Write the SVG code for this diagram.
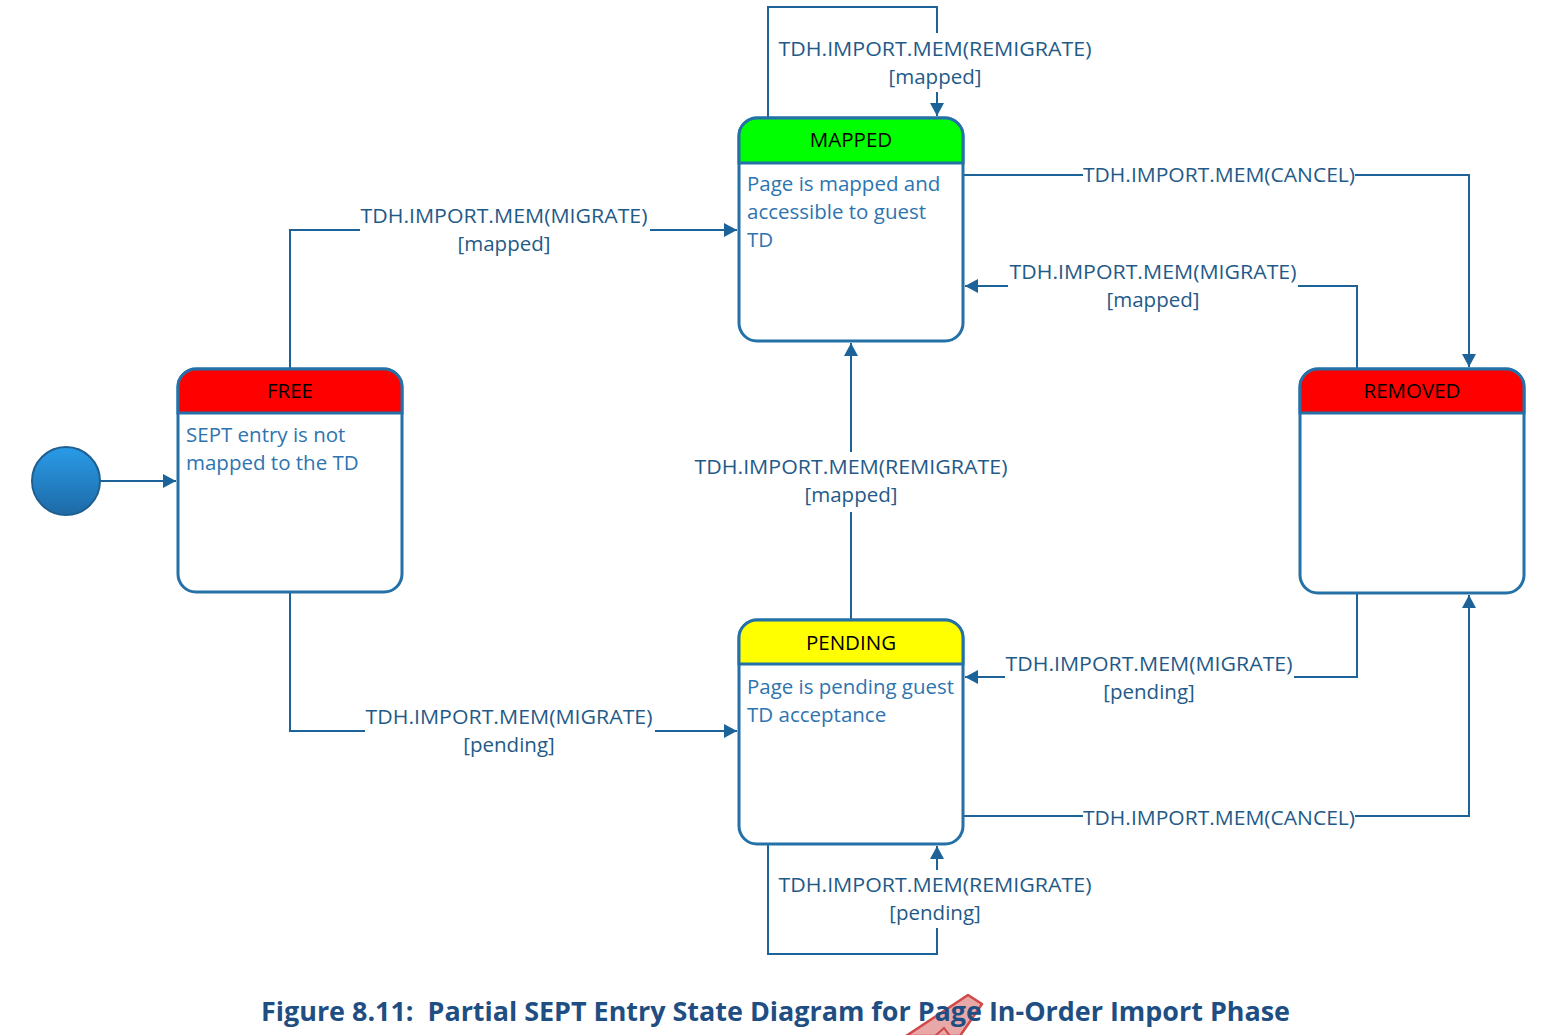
<svg xmlns="http://www.w3.org/2000/svg" width="1541" height="1035" viewBox="0 0 1541 1035">
<defs>
<marker id="arr" markerUnits="userSpaceOnUse" markerWidth="14" markerHeight="14" refX="13" refY="7" orient="auto">
<path d="M0,0 L13,7 L0,14 Z" fill="#1B6399"/>
</marker>
<linearGradient id="ball" x1="0" y1="0" x2="0" y2="1">
<stop offset="0" stop-color="#2A9BE8"/>
<stop offset="1" stop-color="#1D6AA6"/>
</linearGradient>
<style>
.box{fill:#fff;stroke:#2471A8;stroke-width:3}
.hdr{stroke:#2471A8;stroke-width:3}
.ht{font-family:"Open Sans","Liberation Sans",sans-serif;font-size:20.5px;fill:#000;text-anchor:middle}
.dt{font-family:"Open Sans","Liberation Sans",sans-serif;font-size:20.5px;fill:#2E74B0}
.ln{fill:none;stroke:#1B6399;stroke-width:2}
.lb{font-family:"Open Sans","Liberation Sans",sans-serif;font-size:20.5px;fill:#1F5A88;text-anchor:middle}
.cap{font-family:"Open Sans","Liberation Sans",sans-serif;font-size:27px;font-weight:bold;fill:#1F4E82}
</style>
</defs>
<rect width="1541" height="1035" fill="#fff"/>

<g id="connectors">
<path class="ln" d="M100,481 H176" marker-end="url(#arr)"/>
<path class="ln" d="M290,369 V230 H360"/>
<path class="ln" d="M650,230 H737" marker-end="url(#arr)"/>
<text class="lb" x="504" y="223" textLength="287" lengthAdjust="spacingAndGlyphs">TDH.IMPORT.MEM(MIGRATE)</text>
<text class="lb" x="504" y="251">[mapped]</text>

<path class="ln" d="M290,593 V731 H365"/>
<path class="ln" d="M655,731 H737" marker-end="url(#arr)"/>
<text class="lb" x="509" y="724" textLength="287" lengthAdjust="spacingAndGlyphs">TDH.IMPORT.MEM(MIGRATE)</text>
<text class="lb" x="509" y="752">[pending]</text>

<path class="ln" d="M851,620 V512"/>
<path class="ln" d="M851,452 V343" marker-end="url(#arr)"/>
<text class="lb" x="851" y="474" textLength="313" lengthAdjust="spacingAndGlyphs">TDH.IMPORT.MEM(REMIGRATE)</text>
<text class="lb" x="851" y="502">[mapped]</text>

<path class="ln" d="M768,118 V7 H937 V33"/>
<path class="ln" d="M937,92 V116" marker-end="url(#arr)"/>
<text class="lb" x="935" y="56" textLength="313" lengthAdjust="spacingAndGlyphs">TDH.IMPORT.MEM(REMIGRATE)</text>
<text class="lb" x="935" y="84">[mapped]</text>

<path class="ln" d="M768,844 V954 H937 V928"/>
<path class="ln" d="M937,870 V846" marker-end="url(#arr)"/>
<text class="lb" x="935" y="892" textLength="313" lengthAdjust="spacingAndGlyphs">TDH.IMPORT.MEM(REMIGRATE)</text>
<text class="lb" x="935" y="920">[pending]</text>

<path class="ln" d="M963,175 H1083"/>
<path class="ln" d="M1355,175 H1469 V367" marker-end="url(#arr)"/>
<text class="lb" x="1219" y="182" textLength="272" lengthAdjust="spacingAndGlyphs">TDH.IMPORT.MEM(CANCEL)</text>

<path class="ln" d="M1357,369 V286 H1298"/>
<path class="ln" d="M1008,286 H965" marker-end="url(#arr)"/>
<text class="lb" x="1153" y="279" textLength="287" lengthAdjust="spacingAndGlyphs">TDH.IMPORT.MEM(MIGRATE)</text>
<text class="lb" x="1153" y="307">[mapped]</text>

<path class="ln" d="M1357,593 V677 H1294"/>
<path class="ln" d="M1005,677 H965" marker-end="url(#arr)"/>
<text class="lb" x="1149" y="671" textLength="287" lengthAdjust="spacingAndGlyphs">TDH.IMPORT.MEM(MIGRATE)</text>
<text class="lb" x="1149" y="699">[pending]</text>

<path class="ln" d="M963,816 H1083"/>
<path class="ln" d="M1355,816 H1469 V595" marker-end="url(#arr)"/>
<text class="lb" x="1219" y="825" textLength="272" lengthAdjust="spacingAndGlyphs">TDH.IMPORT.MEM(CANCEL)</text>
</g>

<g id="initial">
<circle cx="66" cy="481" r="34" fill="url(#ball)" stroke="#1F5F90" stroke-width="2"/>
</g>

<g id="free">
<rect class="box" x="178" y="369" width="224" height="223" rx="18"/>
<path class="hdr" fill="#FF0000" d="M178,413 V387 A18,18 0 0 1 196,369 H384 A18,18 0 0 1 402,387 V413 Z"/>
<text class="ht" x="290" y="398">FREE</text>
<text class="dt" x="186" y="442">SEPT entry is not</text>
<text class="dt" x="186" y="470">mapped to the TD</text>
</g>

<g id="mapped">
<rect class="box" x="739" y="118" width="224" height="223" rx="18"/>
<path class="hdr" fill="#00FF00" d="M739,163 V136 A18,18 0 0 1 757,118 H945 A18,18 0 0 1 963,136 V163 Z"/>
<text class="ht" x="851" y="147">MAPPED</text>
<text class="dt" x="747" y="191">Page is mapped and</text>
<text class="dt" x="747" y="219">accessible to guest</text>
<text class="dt" x="747" y="247">TD</text>
</g>

<g id="pending">
<rect class="box" x="739" y="620" width="224" height="224" rx="18"/>
<path class="hdr" fill="#FFFF00" d="M739,664 V638 A18,18 0 0 1 757,620 H945 A18,18 0 0 1 963,638 V664 Z"/>
<text class="ht" x="851" y="650">PENDING</text>
<text class="dt" x="747" y="694" textLength="207" lengthAdjust="spacingAndGlyphs">Page is pending guest</text>
<text class="dt" x="747" y="722">TD acceptance</text>
</g>

<g id="removed">
<rect class="box" x="1300" y="369" width="224" height="224" rx="18"/>
<path class="hdr" fill="#FF0000" d="M1300,413 V387 A18,18 0 0 1 1318,369 H1506 A18,18 0 0 1 1524,387 V413 Z"/>
<text class="ht" x="1412" y="398">REMOVED</text>
</g>

<g id="cursor">
<path d="M906,1036 L968,995 L982,1004 L960,1036 Z" fill="#E8A8A8" stroke="#D04848" stroke-width="2.5" stroke-linejoin="round"/>
<path d="M935,1036 L944,1028 L950,1036" fill="none" stroke="#D04848" stroke-width="2"/>
</g>

<g id="caption">
<text class="cap" x="261" y="1021" xml:space="preserve" textLength="1029" lengthAdjust="spacingAndGlyphs">Figure 8.11:  Partial SEPT Entry State Diagram for Page In-Order Import Phase</text>
</g>
</svg>
